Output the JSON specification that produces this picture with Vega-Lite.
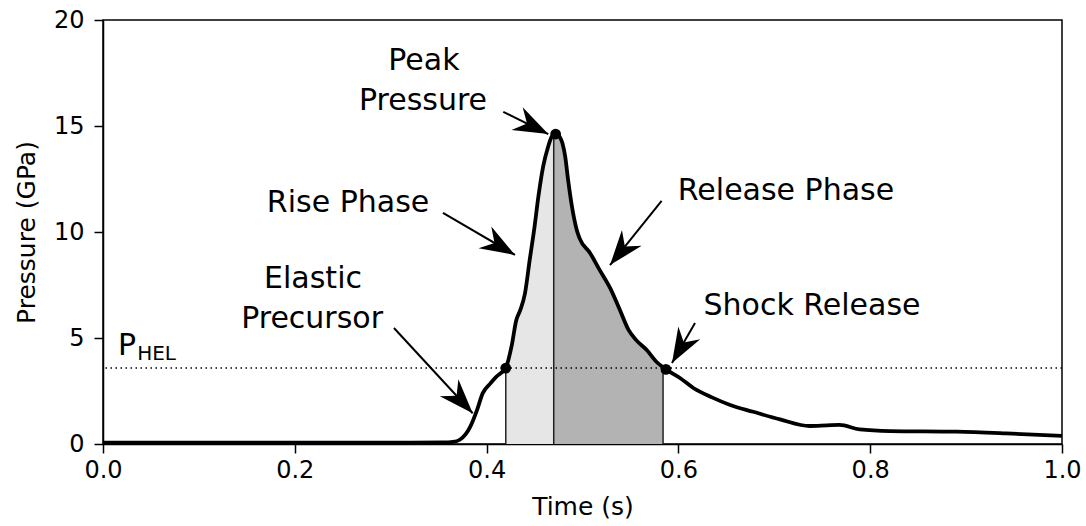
{
  "$schema": "https://vega.github.io/schema/vega-lite/v6.json",
  "width": 959,
  "height": 424,
  "autosize": {"type": "none"},
  "padding": {"left": 103, "top": 20, "right": 24, "bottom": 82},
  "background": "white",
  "config": {
    "font": "DejaVu Sans",
    "view": {"stroke": "black", "strokeWidth": 1.5},
    "axis": {
      "grid": false,
      "labelFlush": false,
      "labelOverlap": false,
      "domainColor": "black",
      "domainWidth": 1.5,
      "tickColor": "black",
      "tickWidth": 1.5,
      "tickSize": 9,
      "labelFont": "DejaVu Sans",
      "labelFontSize": 24,
      "labelColor": "black",
      "titleFont": "DejaVu Sans",
      "titleFontSize": 25,
      "titleFontWeight": "normal",
      "titleColor": "black"
    }
  },
  "datasets": {
    "curve": [
      {"t": 0.0, "p": 0.06}, {"t": 0.1, "p": 0.06}, {"t": 0.2, "p": 0.06}, {"t": 0.3, "p": 0.06},
      {"t": 0.355, "p": 0.07}, {"t": 0.365, "p": 0.1}, {"t": 0.372, "p": 0.2}, {"t": 0.378, "p": 0.45},
      {"t": 0.383, "p": 0.82}, {"t": 0.39, "p": 1.6}, {"t": 0.396, "p": 2.4}, {"t": 0.404, "p": 2.86},
      {"t": 0.41, "p": 3.17}, {"t": 0.415, "p": 3.35}, {"t": 0.42, "p": 3.58}, {"t": 0.426, "p": 4.6},
      {"t": 0.431, "p": 5.85}, {"t": 0.435, "p": 6.3}, {"t": 0.44, "p": 7.1}, {"t": 0.445, "p": 8.7},
      {"t": 0.45, "p": 10.25}, {"t": 0.454, "p": 11.67}, {"t": 0.459, "p": 13.1}, {"t": 0.464, "p": 14.0},
      {"t": 0.468, "p": 14.5}, {"t": 0.47, "p": 14.6}, {"t": 0.473, "p": 14.65}, {"t": 0.476, "p": 14.5},
      {"t": 0.479, "p": 14.2}, {"t": 0.482, "p": 13.55}, {"t": 0.485, "p": 12.45}, {"t": 0.489, "p": 11.2},
      {"t": 0.494, "p": 10.1}, {"t": 0.497, "p": 9.7}, {"t": 0.508, "p": 9.0}, {"t": 0.518, "p": 8.2},
      {"t": 0.529, "p": 7.34}, {"t": 0.539, "p": 6.32}, {"t": 0.548, "p": 5.38}, {"t": 0.556, "p": 4.9},
      {"t": 0.567, "p": 4.43}, {"t": 0.577, "p": 3.88}, {"t": 0.584, "p": 3.62}, {"t": 0.587, "p": 3.52},
      {"t": 0.602, "p": 3.1}, {"t": 0.616, "p": 2.63}, {"t": 0.635, "p": 2.2}, {"t": 0.654, "p": 1.84},
      {"t": 0.678, "p": 1.52}, {"t": 0.706, "p": 1.16}, {"t": 0.737, "p": 0.85}, {"t": 0.755, "p": 0.88},
      {"t": 0.768, "p": 0.9}, {"t": 0.789, "p": 0.69}, {"t": 0.821, "p": 0.61}, {"t": 0.89, "p": 0.58},
      {"t": 0.942, "p": 0.5}, {"t": 1.0, "p": 0.38}
    ],
    "drops": [
      {"t": 0.42, "p": 3.58}, {"t": 0.47, "p": 14.6}, {"t": 0.584, "p": 3.62}
    ],
    "dots": [
      {"t": 0.42, "p": 3.58}, {"t": 0.472, "p": 14.62}, {"t": 0.587, "p": 3.52}
    ],
    "phel": [{"p": 3.58}],
    "arrows": [
      {"name": "peak", "x1": 0.4174, "y1": 15.67, "x2": 0.4643, "y2": 14.62},
      {"name": "rise", "x1": 0.3545, "y1": 10.9, "x2": 0.4296, "y2": 8.92},
      {"name": "release", "x1": 0.5825, "y1": 11.47, "x2": 0.5287, "y2": 8.44},
      {"name": "elastic", "x1": 0.3034, "y1": 5.47, "x2": 0.3855, "y2": 1.45},
      {"name": "shock", "x1": 0.6173, "y1": 5.71, "x2": 0.5933, "y2": 3.82}
    ],
    "labels": [
      {"x": 0.3347, "y": 17.64, "text": "Peak"},
      {"x": 0.3337, "y": 15.75, "text": "Pressure"},
      {"x": 0.2555, "y": 10.94, "text": "Rise Phase"},
      {"x": 0.7122, "y": 11.51, "text": "Release Phase"},
      {"x": 0.219, "y": 7.36, "text": "Elastic"},
      {"x": 0.218, "y": 5.47, "text": "Precursor"},
      {"x": 0.7393, "y": 6.08, "text": "Shock Release"}
    ],
    "pmain": [{"x": 0.0156, "y": 4.2, "text": "P"}],
    "psub": [{"x": 0.0356, "y": 3.96, "text": "HEL"}]
  },
  "layer": [
    {
      "data": {"name": "curve"},
      "transform": [{"filter": "datum.t >= 0.42 && datum.t <= 0.47"}],
      "mark": {"type": "area", "color": "#e6e6e6", "opacity": 1, "interpolate": "monotone"},
      "encoding": {
        "x": {"field": "t", "type": "quantitative", "scale": {"domain": [0, 1], "nice": false},
              "axis": {"values": [0, 0.2, 0.4, 0.6, 0.8, 1.0], "format": ".1f", "labelPadding": 5, "titlePadding": 12}, "title": "Time (s)"},
        "y": {"field": "p", "type": "quantitative", "scale": {"domain": [0, 20], "nice": false},
              "axis": {"values": [0, 5, 10, 15, 20], "labelPadding": 10, "titlePadding": 14}, "title": "Pressure (GPa)"}
      }
    },
    {
      "data": {"name": "curve"},
      "transform": [{"filter": "datum.t >= 0.47 && datum.t <= 0.584"}],
      "mark": {"type": "area", "color": "#b3b3b3", "opacity": 1, "interpolate": "monotone"},
      "encoding": {
        "x": {"field": "t", "type": "quantitative", "title": "Time (s)"},
        "y": {"field": "p", "type": "quantitative", "title": "Pressure (GPa)"}
      }
    },
    {
      "data": {"name": "drops"},
      "mark": {"type": "rule", "color": "#222222", "strokeWidth": 1.5},
      "encoding": {
        "x": {"field": "t", "type": "quantitative", "title": "Time (s)"},
        "y": {"field": "p", "type": "quantitative", "title": "Pressure (GPa)"},
        "y2": {"datum": 0}
      }
    },
    {
      "data": {"name": "phel"},
      "mark": {"type": "rule", "color": "black", "strokeWidth": 1.5, "strokeDash": [1.5, 3.5]},
      "encoding": {
        "y": {"field": "p", "type": "quantitative", "title": "Pressure (GPa)"}
      }
    },
    {
      "data": {"name": "curve"},
      "mark": {"type": "line", "color": "black", "strokeWidth": 3.8, "interpolate": "monotone", "strokeJoin": "round"},
      "encoding": {
        "x": {"field": "t", "type": "quantitative", "title": "Time (s)"},
        "y": {"field": "p", "type": "quantitative", "title": "Pressure (GPa)"}
      }
    },
    {
      "data": {"name": "dots"},
      "mark": {"type": "point", "filled": true, "color": "black", "opacity": 1, "size": 115},
      "encoding": {
        "x": {"field": "t", "type": "quantitative", "title": "Time (s)"},
        "y": {"field": "p", "type": "quantitative", "title": "Pressure (GPa)"}
      }
    },
    {
      "data": {"name": "arrows"},
      "mark": {"type": "rule", "color": "black", "strokeWidth": 2},
      "encoding": {
        "x": {"field": "x1", "type": "quantitative", "title": "Time (s)"},
        "y": {"field": "y1", "type": "quantitative", "title": "Pressure (GPa)"},
        "x2": {"field": "x2"},
        "y2": {"field": "y2"}
      }
    },
    {
      "data": {"name": "arrows"},
      "transform": [{"calculate": "atan2((datum.x2 - datum.x1) * 959, (datum.y2 - datum.y1) * 21.2) * 180 / PI", "as": "ang"}],
      "mark": {"type": "point", "shape": "M0,0 L0.8,2.2 L0,1.5 L-0.8,2.2 Z", "filled": true, "color": "black", "opacity": 1, "size": 1000, "strokeWidth": 0},
      "encoding": {
        "x": {"field": "x2", "type": "quantitative", "title": "Time (s)"},
        "y": {"field": "y2", "type": "quantitative", "title": "Pressure (GPa)"},
        "angle": {"field": "ang", "type": "quantitative", "scale": null}
      }
    },
    {
      "data": {"name": "labels"},
      "mark": {"type": "text", "font": "DejaVu Sans", "fontSize": 30, "color": "black", "align": "center", "baseline": "alphabetic"},
      "encoding": {
        "x": {"field": "x", "type": "quantitative", "title": "Time (s)"},
        "y": {"field": "y", "type": "quantitative", "title": "Pressure (GPa)"},
        "text": {"field": "text"}
      }
    },
    {
      "data": {"name": "pmain"},
      "mark": {"type": "text", "font": "DejaVu Sans", "fontSize": 30, "color": "black", "align": "left", "baseline": "alphabetic"},
      "encoding": {
        "x": {"field": "x", "type": "quantitative", "title": "Time (s)"},
        "y": {"field": "y", "type": "quantitative", "title": "Pressure (GPa)"},
        "text": {"field": "text"}
      }
    },
    {
      "data": {"name": "psub"},
      "mark": {"type": "text", "font": "DejaVu Sans", "fontSize": 20, "color": "black", "align": "left", "baseline": "alphabetic"},
      "encoding": {
        "x": {"field": "x", "type": "quantitative", "title": "Time (s)"},
        "y": {"field": "y", "type": "quantitative", "title": "Pressure (GPa)"},
        "text": {"field": "text"}
      }
    }
  ]
}
